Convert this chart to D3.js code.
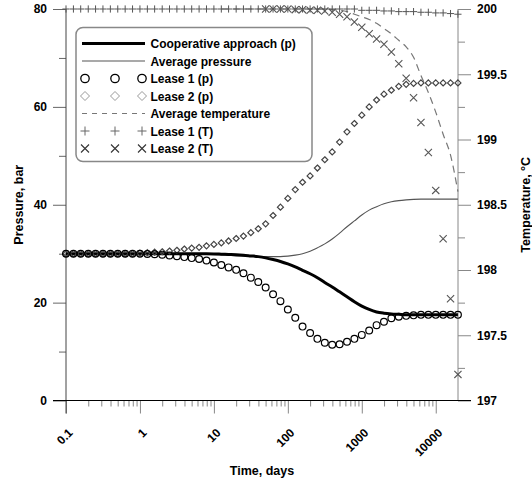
<!DOCTYPE html>
<html>
<head>
<meta charset="utf-8">
<script src="https://cdn.jsdelivr.net/npm/d3@7"></script>
<style>
  body { margin: 0; background: #fff; }
  text { font-family: "Liberation Sans", Arial, sans-serif; font-weight: bold; }
</style>
</head>
<body>
<script>
// sampling grid, days (10 points per decade)
var days = [0.1, 0.126, 0.158, 0.2, 0.251, 0.316, 0.398, 0.501, 0.631, 0.794,
  1, 1.26, 1.58, 2, 2.51, 3.16, 3.98, 5.01, 6.31, 7.94,
  10, 12.6, 15.8, 20, 25.1, 31.6, 39.8, 50.1, 63.1, 79.4,
  100, 126, 158, 200, 251, 316, 398, 501, 631, 794,
  1000, 1259, 1585, 1995, 2512, 3162, 3981, 5012, 6310, 7943,
  10000, 12589, 15849, 19953];

// pressures, bar
var coopP = [30, 30, 30, 30, 30, 30, 30, 30, 30, 30,
  30, 30, 30, 30, 30, 30, 30, 30, 30, 29.98,
  29.95, 29.9, 29.85, 29.8, 29.7, 29.55, 29.4, 29.15, 28.8, 28.4,
  27.9, 27.3, 26.6, 25.9, 25.1, 24.1, 23.2, 22.2, 21.2, 20.2,
  19.3, 18.6, 18.1, 17.85, 17.7, 17.6, 17.5, 17.5, 17.5, 17.5,
  17.5, 17.5, 17.5, 17.5];
var avgP = [30, 30, 30, 30, 30, 30, 30, 30, 30, 30,
  30, 30, 30, 30, 30, 30, 30, 30, 30, 29.95,
  29.85, 29.75, 29.65, 29.55, 29.5, 29.45, 29.4, 29.4, 29.4, 29.4,
  29.5, 29.7, 30.0, 30.5, 31.2, 32.0, 33.0, 34.2, 35.5, 36.7,
  37.9, 38.9, 39.6, 40.2, 40.6, 40.85, 41.0, 41.1, 41.15, 41.15,
  41.15, 41.15, 41.15, 41.15];
var lease1P = [30, 30, 30, 30, 30, 30, 30, 30, 30, 30,
  30, 29.95, 29.9, 29.8, 29.65, 29.5, 29.3, 29.1, 28.9, 28.6,
  28.2, 27.7, 27.2, 26.7, 26.0, 25.1, 24.2, 23.1, 21.7, 20.3,
  18.6, 16.9, 15.1, 13.8, 12.6, 11.8, 11.4, 11.5, 12.0, 12.6,
  13.4, 14.3, 15.4, 16.1, 16.8, 17.1, 17.3, 17.4, 17.5, 17.5,
  17.5, 17.5, 17.5, 17.5];
var lease2P = [30, 30, 30, 30, 30, 30, 30, 30, 30, 30,
  30.1, 30.2, 30.3, 30.4, 30.55, 30.7, 30.95, 31.15, 31.3, 31.6,
  31.9, 32.2, 32.6, 33.1, 33.6, 34.3, 35.1, 36.1, 37.8, 39.5,
  41.3, 43.1, 44.6, 45.9, 47.5, 49.2, 50.8, 52.8, 54.9, 56.6,
  58.3, 60.0, 61.4, 62.6, 63.4, 64.2, 64.6, 64.8, 64.9, 64.9,
  64.9, 64.9, 64.9, 64.9];

// temperatures, C (null = not plotted)
var avgT = [null, null, null, null, null, null, null, null, null, null,
  null, null, null, null, null, null, null, null, null, null,
  null, 200, 200, 200, 200, 200, 200, 200, 200, 200,
  200, 200, 200, 200, 200, 200, 199.995, 199.99, 199.98, 199.96,
  199.94, 199.92, 199.89, 199.85, 199.81, 199.76, 199.71, 199.63, 199.49, 199.36,
  199.21, 199.04, 198.88, 198.6];
var lease1T = [200, 200, 200, 200, 200, 200, 200, 200, 200, 200,
  200, 200, 200, 200, 200, 200, 200, 200, 200, 200,
  200, 200, 200, 200, 200, 200, 200, 200, 200, 200,
  200, 200, 200, 200, 200, 200, 200, 200, 200, 200,
  199.99, 199.99, 199.99, 199.985, 199.985, 199.98, 199.98, 199.98, 199.975, 199.975,
  199.97, 199.97, 199.965, 199.96];
var lease2T = [null, null, null, null, null, null, null, null, null, null,
  null, null, null, null, null, null, null, null, null, null,
  null, null, null, null, null, null, null, 200, 200, 200,
  200, 199.995, 199.995, 199.99, 199.99, 199.985, 199.975, 199.96, 199.94, 199.90,
  199.86, 199.81, 199.77, 199.73, 199.67, 199.58, 199.47, 199.32, 199.13, 198.90,
  198.61, 198.24, 197.78, 197.20];

var xTicks = [0.1, 1, 10, 100, 1000, 10000];
var pTicks = [0, 20, 40, 60, 80];
var tTicks = [197, 197.5, 198, 198.5, 199, 199.5, 200];
var legendNames = ["Cooperative approach (p)", "Average pressure", "Lease 1 (p)", "Lease 2 (p)",
  "Average temperature", "Lease 1 (T)", "Lease 2 (T)"];

var width = 532, height = 482;
var plot = {left: 66, right: 458, top: 9, bottom: 400.5};

var svg = d3.select("body").append("svg")
    .attr("width", width)
    .attr("height", height);

var x = d3.scaleLog().domain([0.1, 20000]).range([plot.left, plot.right]);
var yP = d3.scaleLinear().domain([0, 80]).range([plot.bottom, plot.top]);
var yT = d3.scaleLinear().domain([197, 200]).range([plot.bottom, plot.top]);

// minor tick values
var xMinor = [];
xTicks.slice(0, 5).forEach(function(d) {
  for (var m = 2; m <= 9; m++) xMinor.push(d * m);
});

function cleanAxis(g, col) {
  g.select(".domain").remove();
  g.selectAll(".tick line").attr("stroke", col);
  g.selectAll("text").attr("fill", "#000").style("font-size", "12px");
}

// x axis
svg.append("g")
    .attr("transform", "translate(0," + plot.bottom + ")")
    .call(d3.axisBottom(x).tickValues(xMinor).tickSize(6).tickFormat(""))
    .call(cleanAxis, "#888");

var xg = svg.append("g")
    .attr("transform", "translate(0," + plot.bottom + ")")
    .call(d3.axisBottom(x).tickValues(xTicks).tickSize(13).tickFormat(d3.format("~g")))
    .call(cleanAxis, "#888");
xg.selectAll("text")
    .attr("x", null).attr("y", null).attr("dy", null)
    .attr("text-anchor", "end")
    .attr("transform", "translate(7,33) rotate(-45)");

// left axis
svg.append("g")
    .attr("transform", "translate(" + plot.left + ",0)")
    .call(d3.axisLeft(yP).tickValues([10, 30, 50, 70]).tickSize(7).tickFormat(""))
    .call(cleanAxis, "#666");
svg.append("g")
    .attr("transform", "translate(" + plot.left + ",0)")
    .call(d3.axisLeft(yP).tickValues(pTicks).tickSize(13).tickPadding(6))
    .call(cleanAxis, "#666");

// right axis
svg.append("g")
    .attr("transform", "translate(" + plot.right + ",0)")
    .call(d3.axisRight(yT).tickValues([197.25, 197.75, 198.25, 198.75, 199.25, 199.75]).tickSize(7).tickFormat(""))
    .call(cleanAxis, "#888");
svg.append("g")
    .attr("transform", "translate(" + plot.right + ",0)")
    .call(d3.axisRight(yT).tickValues(tTicks).tickSize(13).tickPadding(6).tickFormat(d3.format("~g")))
    .call(cleanAxis, "#888");

svg.append("line")
    .attr("x1", plot.left).attr("x2", plot.left)
    .attr("y1", plot.top).attr("y2", plot.bottom + 13)
    .attr("stroke", "#444");
svg.append("line")
    .attr("x1", plot.right).attr("x2", plot.right)
    .attr("y1", plot.top).attr("y2", plot.bottom)
    .attr("stroke", "#888");
svg.append("line")
    .attr("x1", plot.left - 13).attr("x2", plot.right + 13)
    .attr("y1", plot.bottom).attr("y2", plot.bottom)
    .attr("stroke", "#000");

// axis titles
svg.append("text")
    .attr("transform", "translate(23," + (plot.top + plot.bottom) / 2 + ") rotate(-90)")
    .attr("text-anchor", "middle")
    .style("font-size", "12.5px")
    .text("Pressure, bar");
svg.append("text")
    .attr("transform", "translate(530," + (plot.top + plot.bottom) / 2 + ") rotate(-90)")
    .attr("text-anchor", "middle")
    .style("font-size", "12.5px")
    .text("Temperature, \u00b0C");
svg.append("text")
    .attr("x", (plot.left + plot.right) / 2)
    .attr("y", 475)
    .attr("text-anchor", "middle")
    .style("font-size", "12.5px")
    .text("Time, days");

// series
function pts(vals, y) {
  return days.map(function(d, i) { return [x(d), vals[i] == null ? null : y(vals[i])]; })
    .filter(function(p) { return p[1] != null; });
}

var line = d3.line().curve(d3.curveMonotoneX);

svg.append("path")
    .attr("d", line(pts(avgT, yT)))
    .attr("fill", "none").attr("stroke", "#777").attr("stroke-width", 1.2)
    .attr("stroke-dasharray", "7,5");
svg.append("path")
    .attr("d", line(pts(avgP, yP)))
    .attr("fill", "none").attr("stroke", "#555").attr("stroke-width", 1.1);
svg.append("path")
    .attr("d", line(pts(coopP, yP)))
    .attr("fill", "none").attr("stroke", "#000").attr("stroke-width", 3);

function plus(s) { return "M" + (-s) + ",0H" + s + "M0," + (-s) + "V" + s; }
function cross(s) { return "M" + (-s) + "," + (-s) + "L" + s + "," + s + "M" + (-s) + "," + s + "L" + s + "," + (-s); }
function diamond(s) { return "M0," + (-s) + "L" + s + ",0L0," + s + "L" + (-s) + ",0Z"; }

function markers(vals, y, draw) {
  var g = svg.append("g");
  pts(vals, y).forEach(function(p) {
    draw(g.append("g").attr("transform", "translate(" + p[0] + "," + p[1] + ")"));
  });
}

markers(lease1T, yT, function(g) {
  g.append("path").attr("d", plus(3.6)).attr("stroke", "#555").attr("stroke-width", 1);
});
markers(lease2T, yT, function(g) {
  g.append("path").attr("d", cross(3.6)).attr("stroke", "#555").attr("stroke-width", 1.1);
});
markers(lease2P, yP, function(g) {
  g.append("path").attr("d", diamond(3)).attr("fill", "none").attr("stroke", "#444").attr("stroke-width", 1.2);
});
markers(lease1P, yP, function(g) {
  g.append("circle").attr("r", 3.4).attr("fill", "none").attr("stroke", "#000").attr("stroke-width", 1.2);
});

// legend
var lg = svg.append("g");
lg.append("rect")
    .attr("x", 76).attr("y", 27.5).attr("width", 236).attr("height", 134).attr("rx", 7)
    .attr("fill", "#fff").attr("stroke", "#888").attr("stroke-width", 1.5);

var rowY = d3.range(legendNames.length).map(function(i) { return 43.5 + i * 17.5; });
var mx = [85, 115, 142];

legendNames.forEach(function(name, i) {
  var y = rowY[i];
  lg.append("text").attr("x", 150.5).attr("y", y + 4.5).style("font-size", "12px").text(name);
});

lg.append("line").attr("x1", 82).attr("x2", 145).attr("y1", rowY[0]).attr("y2", rowY[0])
    .attr("stroke", "#000").attr("stroke-width", 3);
lg.append("line").attr("x1", 82).attr("x2", 145).attr("y1", rowY[1]).attr("y2", rowY[1])
    .attr("stroke", "#555").attr("stroke-width", 1.1);
lg.append("line").attr("x1", 82).attr("x2", 145).attr("y1", rowY[4]).attr("y2", rowY[4])
    .attr("stroke", "#777").attr("stroke-width", 1.2).attr("stroke-dasharray", "5,5");

mx.forEach(function(px) {
  lg.append("circle").attr("cx", px).attr("cy", rowY[2]).attr("r", 4.2)
      .attr("fill", "none").attr("stroke", "#000").attr("stroke-width", 1.3);
  lg.append("path").attr("transform", "translate(" + px + "," + rowY[3] + ")")
      .attr("d", diamond(4.5)).attr("fill", "none").attr("stroke", "#999").attr("stroke-width", 1);
  lg.append("path").attr("transform", "translate(" + px + "," + rowY[5] + ")")
      .attr("d", plus(4.5)).attr("stroke", "#666").attr("stroke-width", 1);
  lg.append("path").attr("transform", "translate(" + px + "," + rowY[6] + ")")
      .attr("d", cross(4)).attr("stroke", "#333").attr("stroke-width", 1.1);
});
</script>
</body>
</html>
